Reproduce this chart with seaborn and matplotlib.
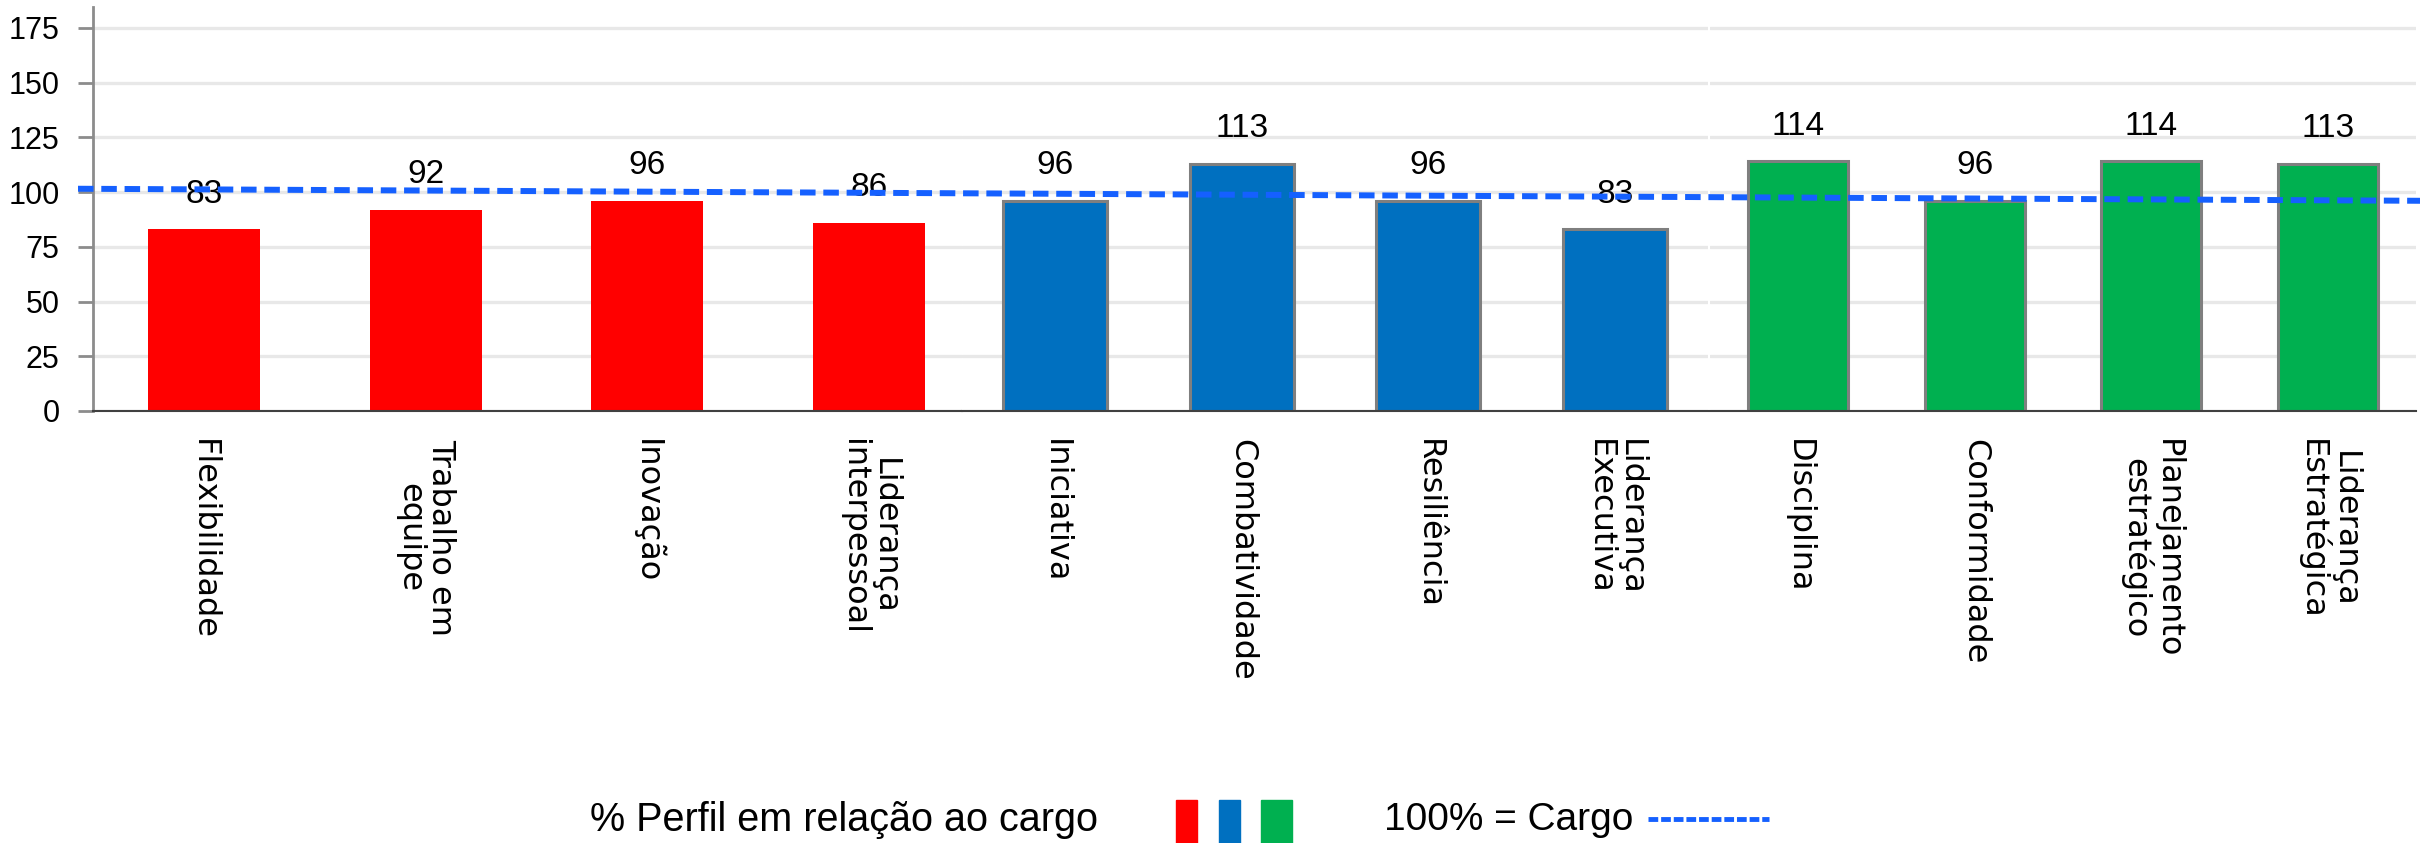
import numpy as np
import pandas as pd
import matplotlib
matplotlib.use("Agg")
import matplotlib.pyplot as plt
from matplotlib.patches import Rectangle
from matplotlib.lines import Line2D
import seaborn as sns

# ==========================================
# DADOS
# ==========================================
competencias_vermelho = ["Flexibilidade", "Trabalho em\nequipe", "Inovação", "Liderança\ninterpessoal"]
valores_vermelho = [83, 92, 96, 86]

competencias_azul = ["Iniciativa", "Combatividade", "Resiliência", "Liderança\nExecutiva"]
valores_azul = [96, 113, 96, 83]

competencias_verde = ["Disciplina", "Conformidade", "Planejamento\nestratégico", "Liderança\nEstratégica"]
valores_verde = [114, 96, 114, 113]

# linha de referencia "100% = Cargo" (inicio e fim, levemente inclinada)
linha_cargo = [101.5, 96.0]

y_ticks = [0, 25, 50, 75, 100, 125, 150, 175]

cor_vermelho = "#FF0000"
cor_azul = "#0070C0"
cor_verde = "#00B050"
cor_linha = "#1560FF"

fonte_num = ["Liberation Sans", "DejaVu Sans"]

sns.set_style("white")
plt.rcParams["text.color"] = "black"
plt.rcParams["xtick.color"] = "black"
plt.rcParams["ytick.color"] = "black"

W, H = 2433, 843
fig = plt.figure(figsize=(W / 100, H / 100), dpi=100)

top = 1 - 7 / H
bottom = 1 - 411 / H
ymax = 184.5

# (categorias, valores, cor, largura barra, borda, espessura borda, x0, x1, xlim direito)
paineis = [
    (competencias_vermelho, valores_vermelho, cor_vermelho, 0.505, "none", 0, 93, 962, 3.42),
    (competencias_azul, valores_azul, cor_azul, 0.56, "#7F7F7F", 2.2, 962, 1708, 3.5),
    (competencias_verde, valores_verde, cor_verde, 0.566, "#7F7F7F", 2.2, 1710, 2416, 3.5),
]

for i, (cats, vals, cor, largura, borda, lw, x0, x1, xr) in enumerate(paineis):
    ax = fig.add_axes([x0 / W, bottom, (x1 - x0) / W, top - bottom])
    df = pd.DataFrame({"competencia": cats, "valor": vals})
    sns.barplot(data=df, x="competencia", y="valor", color=cor, width=largura,
                edgecolor=borda, linewidth=lw, saturation=1, ax=ax, zorder=2)
    ax.set_ylim(0, ymax)
    ax.set_xlim(-0.5, xr)
    ax.set_yticks(y_ticks)
    ax.yaxis.grid(True, color="#E8E8E8", linewidth=2.4, zorder=0)
    ax.set_axisbelow(True)
    ax.set_xlabel("")
    ax.set_ylabel("")
    for c in ax.containers:
        ax.bar_label(c, labels=[str(v) for v in vals], padding=14, fontsize=24,
                     family=fonte_num, color="black", zorder=5)
    ax.set_xticks(range(len(cats)))
    ax.set_xticklabels(cats, rotation=270, ha="center", va="top", fontsize=23,
                       family="DejaVu Sans", linespacing=1.0)
    ax.tick_params(axis="x", length=0, pad=20)
    for s in ["top", "right"]:
        ax.spines[s].set_visible(False)
    ax.spines["bottom"].set_color("#404040")
    ax.spines["bottom"].set_linewidth(1.5)
    if i == 0:
        ax.spines["left"].set_color("#8C8C8C")
        ax.spines["left"].set_linewidth(2)
        ax.tick_params(axis="y", length=11, width=2, color="#8C8C8C", pad=13, labelsize=22,
                       left=True, labelcolor="black")
        for t in ax.get_yticklabels():
            t.set_family(fonte_num)
    else:
        ax.spines["left"].set_visible(False)
        ax.tick_params(axis="y", left=False, labelleft=False)

# linha de referencia sobre todos os paineis
ax_linha = fig.add_axes([78 / W, bottom, (2420 - 78) / W, top - bottom], facecolor="none")
ax_linha.plot([0, 1], linha_cargo, color=cor_linha, linewidth=4.3, linestyle=(0, (2.6, 1.3)))
ax_linha.set_xlim(0, 1)
ax_linha.set_ylim(0, ymax)
ax_linha.axis("off")

# legenda manual na parte de baixo
fig.text(590 / W, 1 - 820 / H, "% Perfil em relação ao cargo", fontsize=28.5, family=fonte_num,
         va="center", ha="left")
for xs, w, cor in [(1176, 21, cor_vermelho), (1219, 21, cor_azul), (1261, 31, cor_verde)]:
    fig.patches.append(Rectangle((xs / W, 0), w / W, 43 / H, transform=fig.transFigure,
                                 color=cor, zorder=3))
fig.text(1384 / W, 1 - 820 / H, "100% = Cargo", fontsize=28, family=fonte_num,
         va="center", ha="left")
fig.lines.append(Line2D([1648 / W, 1769 / W], [1 - 819 / H, 1 - 819 / H], transform=fig.transFigure,
                        color=cor_linha, linewidth=3.5, linestyle=(0, (2, 0.6))))

plt.savefig("out.png", dpi=100)
